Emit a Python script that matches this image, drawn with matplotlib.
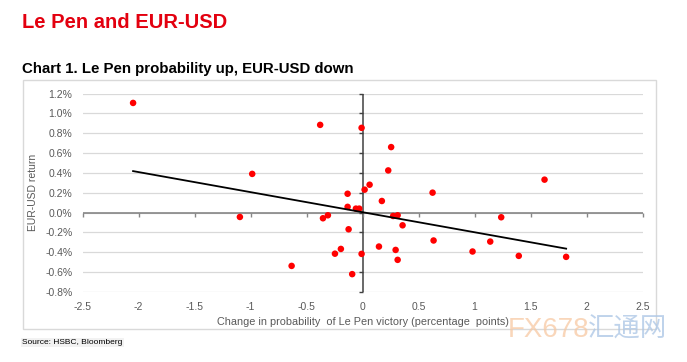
import numpy as np
import matplotlib
matplotlib.use("Agg")
import matplotlib.pyplot as plt
from matplotlib.patches import Rectangle

# ---- data ----
prob_change = [-2.05, -1.096, -0.986, -0.634, -0.379, -0.354, -0.31, -0.247, -0.194,
               -0.134, -0.134, -0.125, -0.093, -0.06, -0.03, -0.009, -0.009, 0.018,
               0.0625, 0.146, 0.172, 0.229, 0.255, 0.273, 0.295, 0.313, 0.313, 0.357,
               0.625, 0.634, 0.982, 1.14, 1.238, 1.395, 1.625, 1.818]
eurusd_ret = [1.105, -0.044, 0.39, -0.537, 0.884, -0.057, -0.027, -0.414, -0.366,
              0.19, 0.058, -0.168, -0.62, 0.04, 0.04, 0.854, -0.416, 0.231,
              0.281, -0.342, 0.117, 0.425, 0.66, -0.034, -0.376, -0.027, -0.476, -0.128,
              0.201, -0.281, -0.392, -0.292, -0.047, -0.436, 0.332, -0.446]
# linear trend line as drawn in the reference (slope, intercept)
trend_slope = -0.202
trend_intercept = 0.004

x_ticks = [-2.5, -2, -1.5, -1, -0.5, 0, 0.5, 1, 1.5, 2, 2.5]
x_tick_labels = ["-2.5", "-2", "-1.5", "-1", "-0.5", "0", "0.5", "1", "1.5", "2", "2.5"]
y_ticks = [-0.8, -0.6, -0.4, -0.2, 0.0, 0.2, 0.4, 0.6, 0.8, 1.0, 1.2]
y_tick_labels = ["-0.8%", "-0.6%", "-0.4%", "-0.2%", "0.0%", "0.2%", "0.4%",
                 "0.6%", "0.8%", "1.0%", "1.2%"]

title = "Le Pen and EUR-USD"
subtitle = "Chart 1. Le Pen probability up, EUR-USD down"
x_label = "Change in probability  of Le Pen victory (percentage  points)"
y_label = "EUR-USD return"
source = "Source: HSBC, Bloomberg"

# ---- figure ----
W, H = 687, 362
fig = plt.figure(figsize=(W / 100, H / 100), dpi=100)
fig.patch.set_facecolor("white")
FONT = "Liberation Sans"
GRAY_TXT = "#595959"

def fx(px):
    return px / W

def fy(py):
    return 1 - py / H

# chart frame
fig.patches.append(Rectangle((fx(23), fy(329)), fx(656) - fx(23), fy(80) - fy(329),
                             transform=fig.transFigure, fill=False,
                             edgecolor="#D9D9D9", linewidth=1.0, zorder=0))

fig.text(fx(22), fy(28), title, color="#E3000F", fontsize=14.5, fontweight="bold",
         family=FONT, va="baseline", ha="left")
fig.text(fx(22), fy(72.5), subtitle, color="black", fontsize=10.8, fontweight="bold",
         family=FONT, va="baseline", ha="left")
fig.text(fx(22), fy(344), source, color="black", fontsize=6.0, family=FONT,
         va="baseline", ha="left",
         bbox=dict(facecolor="#F2F2F2", edgecolor="none", pad=1.0))

left, right, top, bottom = 82.7, 642.5, 93.5, 292.0
ax = fig.add_axes([fx(left), fy(bottom), fx(right) - fx(left), fy(top) - fy(bottom)])
xmin, xmax = x_ticks[0], x_ticks[-1]
ymin, ymax = y_ticks[0], y_ticks[-1]
ax.set_xlim(xmin, xmax)
ax.set_ylim(ymin, ymax)
for s in ax.spines.values():
    s.set_visible(False)

ax.set_xticks(x_ticks)
ax.set_xticklabels(x_tick_labels)
ax.set_yticks(y_ticks)
ax.set_yticklabels(y_tick_labels)
ax.tick_params(axis="both", length=0, labelsize=7.5, labelcolor=GRAY_TXT)
ax.tick_params(axis="x", pad=7)
ax.tick_params(axis="y", pad=7.5)
for lab in ax.get_xticklabels() + ax.get_yticklabels():
    lab.set_family(FONT)

ax.grid(axis="y", color="#D9D9D9", linewidth=0.9, zorder=0)
ax.set_axisbelow(True)

# axes through zero
ax.axhline(0, color="#868686", linewidth=1.2, zorder=1)
ax.axvline(0, color="#404040", linewidth=1.1, zorder=1)
ax.plot(x_ticks, np.zeros(len(x_ticks)), linestyle="none", marker=3, markersize=3,
        markeredgewidth=1.0, color="#868686", zorder=1, clip_on=False)
ax.plot(np.zeros(len(y_ticks)), y_ticks, linestyle="none", marker=0, markersize=3,
        markeredgewidth=1.0, color="#404040", zorder=1, clip_on=False)

# scatter
ax.scatter(prob_change, eurusd_ret, s=22, color="#FF0000", edgecolors="none", zorder=3)

# linear trend line over the data's x range
xs = np.array(prob_change)
xl = np.array([xs.min(), xs.max()])
ax.plot(xl, trend_slope * xl + trend_intercept, color="black", linewidth=1.3, zorder=4)

ax.set_xlabel(x_label, fontsize=7.8, color=GRAY_TXT, family=FONT)
ax.xaxis.set_label_coords(0.5, -(321.7 - bottom) / (bottom - top))
ax.xaxis.label.set_va("center")
ax.set_ylabel(y_label, fontsize=7.5, color=GRAY_TXT, family=FONT)
ax.yaxis.set_label_coords((33 - left) / (right - left), 0.5)
ax.yaxis.label.set_va("center")

# watermark
fig.text(fx(508), fy(337), "FX678", fontsize=20, color="#F7C9A3", alpha=0.75,
         family=["Liberation Sans", "DejaVu Sans"], va="baseline", ha="left")
fig.text(fx(588), fy(337), "汇通网", fontsize=19, color="#AFC8E6", alpha=0.8,
         family=["Noto Sans CJK SC", "DejaVu Sans"], va="baseline", ha="left")

fig.savefig("out.png", dpi=100, facecolor="white")
